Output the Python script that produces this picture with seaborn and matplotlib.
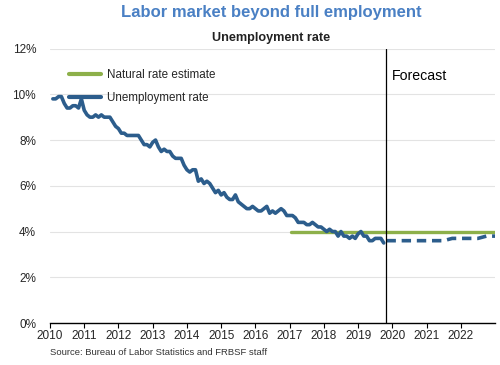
import numpy as np
import pandas as pd
import matplotlib
matplotlib.use("Agg")
import matplotlib.pyplot as plt
import seaborn as sns

# ── Data ────────────────────────────────────────────────────────────────
# Monthly unemployment rate, Jan 2010 – Sep 2019 (%)
unemp_rate = [
    9.8, 9.8, 9.9, 9.9, 9.6, 9.4, 9.4, 9.5, 9.5, 9.4, 9.8, 9.3,   # 2010
    9.1, 9.0, 9.0, 9.1, 9.0, 9.1, 9.0, 9.0, 9.0, 8.8, 8.6, 8.5,   # 2011
    8.3, 8.3, 8.2, 8.2, 8.2, 8.2, 8.2, 8.0, 7.8, 7.8, 7.7, 7.9,   # 2012
    8.0, 7.7, 7.5, 7.6, 7.5, 7.5, 7.3, 7.2, 7.2, 7.2, 6.9, 6.7,   # 2013
    6.6, 6.7, 6.7, 6.2, 6.3, 6.1, 6.2, 6.1, 5.9, 5.7, 5.8, 5.6,   # 2014
    5.7, 5.5, 5.4, 5.4, 5.6, 5.3, 5.2, 5.1, 5.0, 5.0, 5.1, 5.0,   # 2015
    4.9, 4.9, 5.0, 5.1, 4.8, 4.9, 4.8, 4.9, 5.0, 4.9, 4.7, 4.7,   # 2016
    4.7, 4.6, 4.4, 4.4, 4.4, 4.3, 4.3, 4.4, 4.3, 4.2, 4.2, 4.1,   # 2017
    4.0, 4.1, 4.0, 4.0, 3.8, 4.0, 3.8, 3.8, 3.7, 3.8, 3.7, 3.9,   # 2018
    4.0, 3.8, 3.8, 3.6, 3.6, 3.7, 3.7, 3.7, 3.5,                  # 2019
]
unemp_dates = 2010 + (np.arange(len(unemp_rate)) + 1) / 12

# Forecast path (%)
forecast_dates = [2019.83, 2020.0, 2020.5, 2021.0, 2021.5, 2021.75,
                  2022.0, 2022.5, 2022.75, 2023.0]
forecast_rate = [3.6, 3.6, 3.6, 3.6, 3.6, 3.7, 3.7, 3.7, 3.8, 3.8]

# Natural rate estimate (%)
natural_dates = [2017.05, 2023.0]
natural_rate = [4.0, 4.0]

forecast_start = 2019.82
year_ticks = list(range(2010, 2023))
pct_ticks = [0, 2, 4, 6, 8, 10, 12]

BLUE = "#2c5d8c"
GREEN = "#8db04a"
TITLE_BLUE = "#4a80c4"

# ── Plot ────────────────────────────────────────────────────────────────
sns.set_theme(style="white")
plt.rcParams["font.family"] = ["Liberation Sans", "DejaVu Sans"]

fig = plt.figure(figsize=(5.0, 3.65), dpi=100)
ax = fig.add_axes([0.10, 0.115, 0.89, 0.752])

actual = pd.DataFrame({"date": unemp_dates, "rate": unemp_rate})
fcst = pd.DataFrame({"date": forecast_dates, "rate": forecast_rate})
nat = pd.DataFrame({"date": natural_dates, "rate": natural_rate})

sns.lineplot(data=nat, x="date", y="rate", color=GREEN, lw=2.4,
             label="Natural rate estimate", ax=ax, zorder=3)
sns.lineplot(data=actual, x="date", y="rate", color=BLUE, lw=2.6,
             label="Unemployment rate", ax=ax, zorder=4)
sns.lineplot(data=fcst, x="date", y="rate", color=BLUE, lw=2.6,
             linestyle=(0, (2.6, 1.6)), ax=ax, zorder=4)

ax.axvline(forecast_start, color="black", lw=0.9, zorder=5)
ax.text(forecast_start + 0.18, 10.8, "Forecast", fontsize=10.2,
        va="center", ha="left", color="black")

ax.set_xlim(2010, 2023)
ax.set_ylim(0, 12)
ax.set_xticks(year_ticks)
ax.set_xticklabels([str(y) for y in year_ticks], fontsize=8.5)
ax.set_yticks(pct_ticks)
ax.set_yticklabels([f"{p}%" for p in pct_ticks], fontsize=8.5)
ax.tick_params(axis="x", bottom=True, length=3.5, width=0.8, color="black", pad=1.5)
ax.tick_params(axis="y", left=False, length=0, pad=10)
ax.yaxis.grid(True, color="#e3e3e3", lw=0.8)
ax.set_axisbelow(True)
ax.set_xlabel("")
ax.set_ylabel("")
for side in ["top", "right", "left"]:
    ax.spines[side].set_visible(False)
ax.spines["bottom"].set_color("black")
ax.spines["bottom"].set_linewidth(1.0)

leg = ax.legend(loc="upper left", bbox_to_anchor=(0.02, 0.965), frameon=False,
                fontsize=8.4, handlelength=2.7, handletextpad=0.55,
                labelspacing=0.95)
for line in leg.get_lines():
    line.set_linewidth(3.0)

fig.text(0.542, 0.965, "Labor market beyond full employment", fontsize=12.0,
         fontweight="bold", color=TITLE_BLUE, ha="center", va="center")
fig.text(0.542, 0.895, "Unemployment rate", fontsize=9.1,
         fontweight="bold", color="#222222", ha="center", va="center")
fig.text(0.10, 0.033, "Source: Bureau of Labor Statistics and FRBSF staff",
         fontsize=6.8, color="#333333", ha="left", va="center")

fig.savefig("out.png", dpi=100)
plt.close(fig)
